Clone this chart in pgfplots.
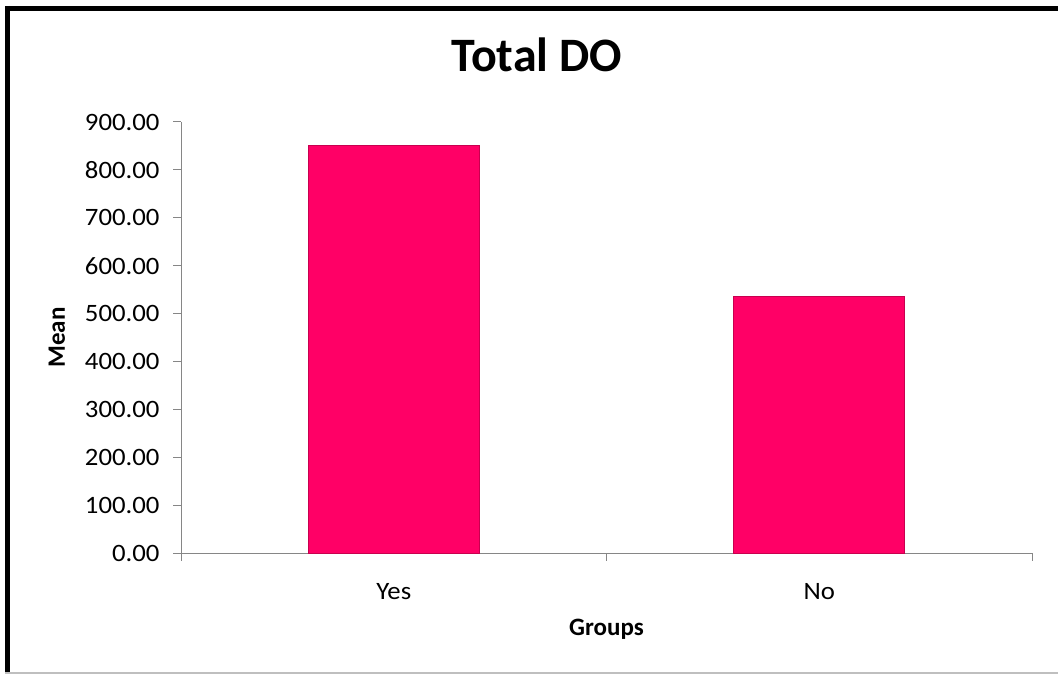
\documentclass[border=0pt]{standalone}
\usepackage{pgfplots}
\pgfplotsset{compat=1.18}
\usepackage{fontspec}
\setmainfont{Carlito}
\newfontfamily\tickfont[FakeStretch=1.07]{Carlito}
\definecolor{barpink}{HTML}{FF0066}
\definecolor{baredge}{HTML}{C8004F}
\definecolor{axgray}{HTML}{868686}
\begin{document}
\begin{tikzpicture}
\path[use as bounding box] (0,0) rectangle (1058bp,675bp);
\draw[line width=5bp,black] (5bp,666.5bp) -- (1058bp,666.5bp);
\draw[line width=5bp,black] (7.5bp,669bp) -- (7.5bp,2bp);
\draw[line width=1.5bp,black!25] (5bp,2bp) -- (1058bp,2bp);
\begin{axis}[
  at={(181bp,122bp)}, anchor=south west,
  scale only axis, width=851bp, height=431bp,
  xmin=-0.5, xmax=1.5, ymin=0, ymax=900,
  axis x line*=bottom, axis y line*=left,
  axis line style={axgray, line width=1bp},
  xtick={0,1}, xticklabels={Yes,No},
  minor xtick={-0.5,0.5,1.5},
  major x tick style={draw=none},
  minor x tick style={axgray, line width=1bp},
  minor tick length=8bp,
  ytick={0,100,...,900},
  major tick length=8bp,
  y tick style={axgray, line width=1bp},
  tick align=outside,
  /pgf/number format/assume math mode=true,
  /pgf/number format/fixed,
  /pgf/number format/fixed zerofill,
  /pgf/number format/precision=2,
  /pgf/number format/1000 sep={},
  ticklabel style={font=\tickfont\fontsize{25bp}{30bp}\selectfont, black},
  yticklabel style={xshift=-10bp},
  xticklabel style={yshift=-19bp},
  xlabel={\textbf{Groups}},
  ylabel={\textbf{Mean}},
  label style={font=\fontsize{25bp}{30bp}\selectfont},
  xlabel style={at={(axis description cs:0.5,-0.176)}, anchor=center},
  ylabel style={at={(axis description cs:-0.146,0.5)}, anchor=center, rotate=0},
  title={\textbf{Total DO}},
  title style={at={(axis description cs:0.418,1.142)}, anchor=center, font=\fontsize{48bp}{56bp}\selectfont},
  clip=false,
]
\addplot[ybar, bar width=171bp, fill=barpink, draw=baredge, line width=0.8bp]
  coordinates {(0,851) (1,535)};
\end{axis}
\end{tikzpicture}
\end{document}
